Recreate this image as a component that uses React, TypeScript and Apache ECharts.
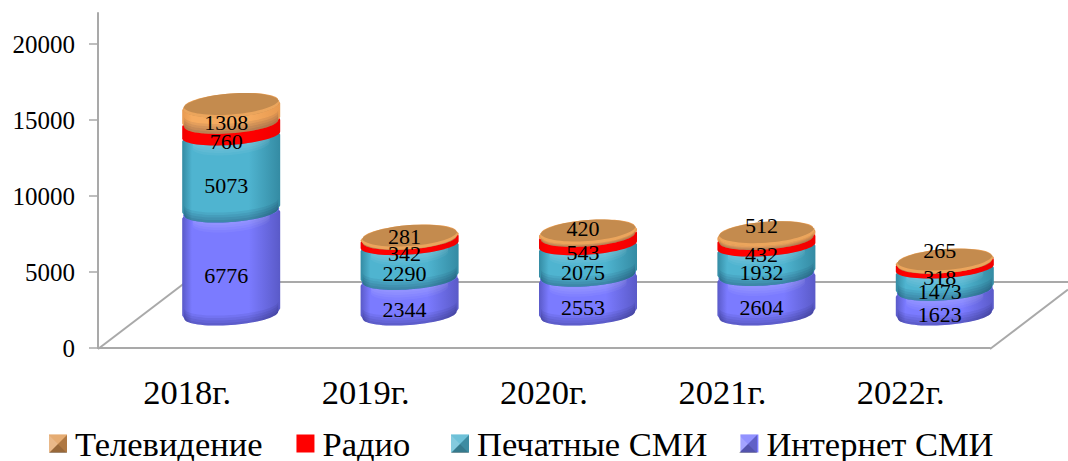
import React, { useEffect, useRef } from "react";
import * as echarts from "echarts";

const categories = ["2018г.", "2019г.", "2020г.", "2021г.", "2022г."];
const internetValues = [6776, 2344, 2553, 2604, 1623];
const printValues = [5073, 2290, 2075, 1932, 1473];
const radioValues = [760, 342, 543, 432, 318];
const tvValues = [1308, 281, 420, 512, 265];
const valueTicks = [0, 5000, 10000, 15000, 20000];

const FONT = "'Liberation Serif', 'Times New Roman', serif";
const GREY = "#a9a9a9";
// depth offset of the bars from the axis plane
const DX = 44;
const DY = -33;
const RX = 49;
const RY = 10;
const SHEAR = 0.07;
const LABEL_DX = -5;
const LABEL_DY = 12;
const topLabelNudge = [9, -1, -5, -10, -11];

type Look = {
  name: string;
  values: number[];
  edge: string;
  mid: string;
  top: string;
  flat: boolean;
  isTop: boolean;
};

const looks: Look[] = [
  { name: "Интернет СМИ", values: internetValues, edge: "#5a5ac8", mid: "#7b7bff", top: "#7070ee", flat: false, isTop: false },
  { name: "Печатные СМИ", values: printValues, edge: "#348ba3", mid: "#4fb4d0", top: "#45a5c0", flat: false, isTop: false },
  { name: "Радио", values: radioValues, edge: "#f00000", mid: "#ff0000", top: "#ff0000", flat: true, isTop: false },
  { name: "Телевидение", values: tvValues, edge: "#e89a50", mid: "#f5ab60", top: "#c48b4e", flat: false, isTop: true },
];

function arc(cx: number, cy: number, rx: number, ry: number, from: number, to: number, dy = 0) {
  const pts: number[][] = [];
  const n = 36;
  for (let i = 0; i <= n; i++) {
    const a = from + ((to - from) * i) / n;
    pts.push([cx + rx * Math.cos(a), cy + dy + ry * Math.sin(a) - SHEAR * RX * Math.cos(a)]);
  }
  return pts;
}

function makeSeries(look: Look, seriesIndex: number) {
  const data = look.values.map((v, i) => {
    let base = 0;
    for (let s = 0; s < seriesIndex; s++) base += looks[s].values[i];
    return [i, base, base + v, v];
  });
  return {
    type: "custom",
    name: look.name,
    itemStyle: { color: look.isTop ? "#e09a55" : look.mid },
    encode: { x: 0, y: [1, 2] },
    clip: false,
    data,
    renderItem: (_p: any, api: any) => {
      const idx = api.value(0);
      const b = api.coord([idx, api.value(1)]);
      const t = api.coord([idx, api.value(2)]);
      const cx = b[0] + DX;
      const by = b[1] + DY;
      const ty = t[1] + DY;
      const h = by - ty;
      const c = look.flat ? 0 : Math.min(3, h / 3);
      const inset = look.flat ? 0 : 2;
      const lean = SHEAR * RX;
      const sideGradient = new echarts.graphic.LinearGradient(0, 0, 1, 0, [
        { offset: 0, color: look.edge },
        { offset: 0.1, color: look.mid },
        { offset: 0.68, color: look.mid },
        { offset: 1, color: look.edge },
      ]);
      const children: any[] = [
        {
          type: "polygon",
          shape: {
            points: [
              [cx + RX, by - lean - c],
              ...arc(cx, by, RX - inset, RY, 0, Math.PI),
              [cx - RX, by + lean - c],
              [cx - RX, ty + lean + c],
              ...arc(cx, ty, RX - inset, RY, Math.PI, 2 * Math.PI),
              [cx + RX, ty - lean + c],
            ],
          },
          style: { fill: sideGradient },
        },
      ];
      if (!look.flat) {
        const band = Math.min(10, h / 2);
        for (let k = 1; k <= 4; k++) {
          children.push({
            type: "polygon",
            shape: {
              points: [
                ...arc(cx, by, RX - 2, RY, 0, Math.PI),
                ...arc(cx, by, RX - 2, RY, Math.PI, 0, (-band * k) / 4),
              ],
            },
            style: { fill: "rgba(20,20,60,0.07)" },
          });
          if (!look.isTop) {
            children.push({
              type: "polygon",
              shape: {
                points: [
                  ...arc(cx, ty, RX - 10, RY, 0.15, Math.PI - 0.15),
                  ...arc(cx, ty, RX - 10, RY, Math.PI - 0.15, 0.15, (band * k) / 4),
                ],
              },
              style: { fill: "rgba(255,255,255,0.05)" },
            });
          }
        }
      }
      // the top bar shows a wider lid than the ones below it
      const lidRy = look.isTop ? RY + 2 : RY;
      const lidY = look.isTop ? ty + 2 : ty;
      children.push({
        type: "polygon",
        shape: { points: arc(cx, lidY, RX - 1, lidRy, 0, 2 * Math.PI) },
        style: { fill: look.top },
      });
      if (look.isTop) {
        children.push({
          type: "polygon",
          shape: {
            points: [
              ...arc(cx, lidY, RX - 1, lidRy, 0, Math.PI),
              ...arc(cx, lidY, RX - 1, lidRy, Math.PI, 0, -3),
            ],
          },
          style: { fill: "rgba(245,171,96,0.8)" },
        });
      }
      const nudge = look.isTop ? topLabelNudge[idx] : LABEL_DY;
      const labelY = (by + ty) / 2 + nudge;
      children.push({
        type: "text",
        style: {
          text: String(api.value(3)),
          x: cx + LABEL_DX,
          y: labelY,
          align: "center",
          verticalAlign: "middle",
          fill: "#000",
          font: `22px ${FONT}`,
        },
        z2: 10,
      });
      return { type: "group", children };
    },
  };
}

const swatchX = [49, 451, 739];

function bevelGraphics() {
  const out: any[] = [];
  const y = 435;
  const s = 18;
  swatchX.forEach((x) => {
    const m = [x + s / 2, y + s / 2];
    const tri = (a: number[], b: number[], fill: string) => ({
      type: "polygon",
      z: 100,
      silent: true,
      shape: { points: [a, b, m] },
      style: { fill },
    });
    out.push(tri([x, y], [x + s, y], "rgba(255,255,255,0.18)"));
    out.push(tri([x, y], [x, y + s], "rgba(255,255,255,0.3)"));
    out.push(tri([x + s, y], [x + s, y + s], "rgba(0,0,0,0.22)"));
    out.push(tri([x, y + s], [x + s, y + s], "rgba(0,0,0,0.32)"));
  });
  return out;
}

function floorGraphics() {
  const line = (x1: number, y1: number, x2: number, y2: number) => ({
    type: "line",
    z: 0,
    silent: true,
    shape: { x1, y1, x2, y2 },
    style: { stroke: GREY, lineWidth: 2 },
  });
  return [line(98, 349, 186, 282), line(186, 282, 1068, 282), line(990, 349, 1068, 289.5)];
}

const legendBase = {
  top: 421,
  padding: 5,
  icon: "rect",
  itemWidth: 18,
  itemHeight: 18,
  itemGap: 34,
  textStyle: { color: "#000", fontFamily: FONT, fontSize: 34.5, lineHeight: 30, padding: [0, 0, 0, 3] },
};

export default function App() {
  const ref = useRef<HTMLDivElement>(null);
  useEffect(() => {
    document.body.style.margin = "0";
    const chart = echarts.init(ref.current!, null, { renderer: "svg" });
    chart.setOption({
      animation: false,
      backgroundColor: "#ffffff",
      grid: { left: 98, right: 78, top: 13, bottom: 113 },
      xAxis: {
        type: "category",
        data: categories,
        axisLine: { lineStyle: { color: GREY, width: 2 } },
        axisTick: { length: 9, lineStyle: { color: GREY, width: 1.5 } },
        axisLabel: { color: "#000", fontFamily: FONT, fontSize: 34.5, margin: 26 },
      },
      yAxis: {
        type: "value",
        min: 0,
        max: 22040,
        splitLine: { show: false },
        axisLine: { show: true, lineStyle: { color: GREY, width: 2 } },
        axisTick: { show: true, length: 9, customValues: valueTicks, lineStyle: { color: GREY, width: 1.5 } },
        axisLabel: {
          color: "#000",
          fontFamily: FONT,
          fontSize: 25,
          margin: 23,
          customValues: valueTicks,
          formatter: (v: number) => String(v),
        },
      },
      legend: [
        { ...legendBase, left: 44, data: ["Телевидение", "Радио"] },
        { ...legendBase, left: 446, itemGap: 33, data: ["Печатные СМИ", "Интернет СМИ"] },
      ],
      graphic: [...floorGraphics(), ...bevelGraphics()],
      series: looks.map(makeSeries),
    });
    return () => chart.dispose();
  }, []);
  return <div ref={ref} style={{ width: 1068, height: 461 }} />;
}
